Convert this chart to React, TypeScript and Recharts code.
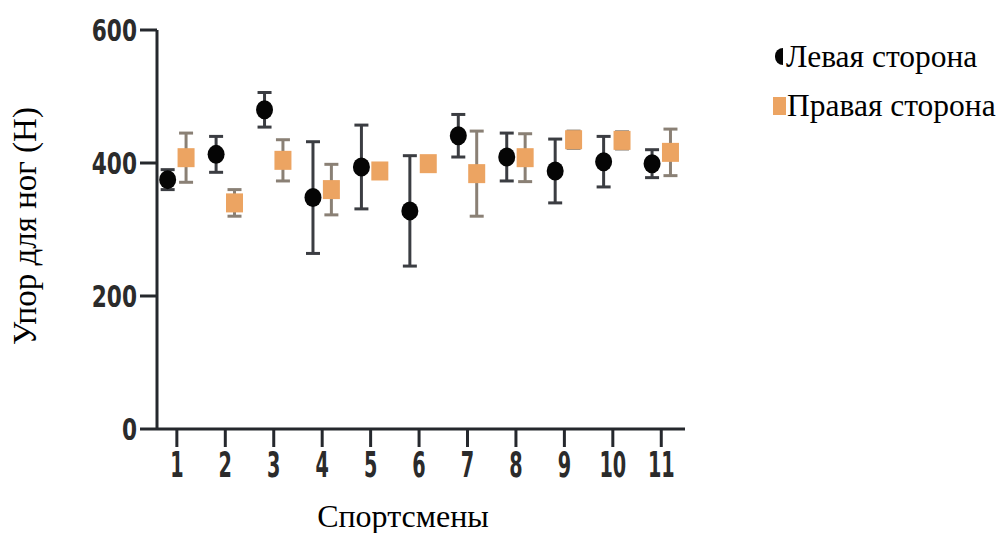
import React from "react";
import {
  ScatterChart, Scatter, XAxis, YAxis, ErrorBar, Label,
} from "recharts";

// athlete numbers on the x axis
const athletes = [1, 2, 3, 4, 5, 6, 7, 8, 9, 10, 11];
const yTicks = [0, 200, 400, 600];

// footrest force (N), mean and SD
const leftForce = [375, 413, 480, 348, 394, 328, 441, 409, 388, 402, 399];
const leftSd = [15, 27, 26, 84, 63, 83, 32, 36, 48, 38, 21];
const rightForce = [408, 340, 404, 360, 388, 399, 384, 408, 435, 434, 416];
const rightSd = [37, 20, 31, 38, 8, 8, 64, 36, 13, 13, 35];

const LEFT_NAME = "Левая сторона";
const RIGHT_NAME = "Правая сторона";
const ORANGE = "#eca462";
const DODGE = 0.19;

const leftData = athletes.map((a, i) => ({ x: a - DODGE, y: leftForce[i], err: leftSd[i] }));
const rightData = athletes.map((a, i) => ({ x: a + DODGE, y: rightForce[i], err: rightSd[i] }));

const serif = "'Liberation Serif', 'Times New Roman', serif";
const sans = "'DejaVu Sans', sans-serif";

const LeftDot = (props: any) => {
  const { cx, cy } = props;
  if (cx == null || cy == null) return null;
  return <ellipse cx={cx} cy={cy} rx={8.5} ry={9.5} fill="#050505" />;
};

const RightSquare = (props: any) => {
  const { cx, cy } = props;
  if (cx == null || cy == null) return null;
  return <rect x={cx - 8.5} y={cy - 9.5} width={17} height={19} fill={ORANGE} />;
};

// tick labels in the original are a very narrow bold face, so squeeze them
const XTick = (props: any) => {
  const { x, y, payload } = props;
  return (
    <text transform={`translate(${x},${y}) scale(0.55,1)`} x={0} y={21} textAnchor="middle"
      fontFamily={sans} fontWeight="bold" fontSize={35} fill="#2b2b2b">
      {payload.value}
    </text>
  );
};

const YTick = (props: any) => {
  const { x, y, payload } = props;
  return (
    <text transform={`translate(${x},${y}) scale(0.7,1)`} x={0} y={11} textAnchor="end"
      fontFamily={sans} fontWeight="bold" fontSize={31} fill="#2b2b2b">
      {payload.value}
    </text>
  );
};

const LegendBox = () => (
  <div style={{ position: "absolute", left: 773, top: 32, fontFamily: serif, fontSize: 31.5, color: "#000", lineHeight: "49px", whiteSpace: "nowrap" }}>
    <div style={{ display: "flex", alignItems: "center" }}>
      <span style={{ display: "inline-block", width: 8, height: 17, background: "#050505", borderRadius: "8px 0 0 8px", marginRight: 3, marginLeft: 2 }} />
      {LEFT_NAME}
    </div>
    <div style={{ display: "flex", alignItems: "center" }}>
      <span style={{ display: "inline-block", width: 13, height: 18, background: ORANGE, marginRight: 1 }} />
      {RIGHT_NAME}
    </div>
  </div>
);

export default function App() {
  return (
    <div style={{ position: "absolute", left: 0, top: 0, width: 1003, height: 533, background: "#fff" }}>
      <ScatterChart width={1003} height={533} margin={{ top: 30, right: 318, left: 0, bottom: 0 }}>
        <XAxis
          type="number"
          dataKey="x"
          domain={[0.59, 11.49]}
          ticks={athletes}
          allowDataOverflow
          height={104}
          tick={<XTick />}
          tickSize={18}
          tickMargin={9}
          stroke="#25282d"
          strokeWidth={3}
        >
          <Label
            content={() => (
              <text x={403} y={527} textAnchor="middle" fontFamily={serif} fontSize={32} fill="#000">
                Спортсмены
              </text>
            )}
          />
        </XAxis>
        <YAxis
          type="number"
          dataKey="y"
          domain={[0, 600]}
          ticks={yTicks}
          width={157}
          tick={<YTick />}
          tickSize={17}
          tickMargin={3}
          stroke="#25282d"
          strokeWidth={3}
        >
          <Label
            content={() => (
              <text x={36} y={226} transform="rotate(-90, 36, 226)" textAnchor="middle"
                fontFamily={serif} fontSize={33} fill="#000">
                Упор для ног (H)
              </text>
            )}
          />
        </YAxis>
        <Scatter name={LEFT_NAME} data={leftData} shape={<LeftDot />} isAnimationActive={false}>
          <ErrorBar dataKey="err" direction="y" width={7} stroke="#3b3d42" strokeWidth={3} />
        </Scatter>
        <Scatter name={RIGHT_NAME} data={rightData} shape={<RightSquare />} isAnimationActive={false}>
          <ErrorBar dataKey="err" direction="y" width={7} stroke="#8a8075" strokeWidth={3} />
        </Scatter>
      </ScatterChart>
      <LegendBox />
    </div>
  );
}
